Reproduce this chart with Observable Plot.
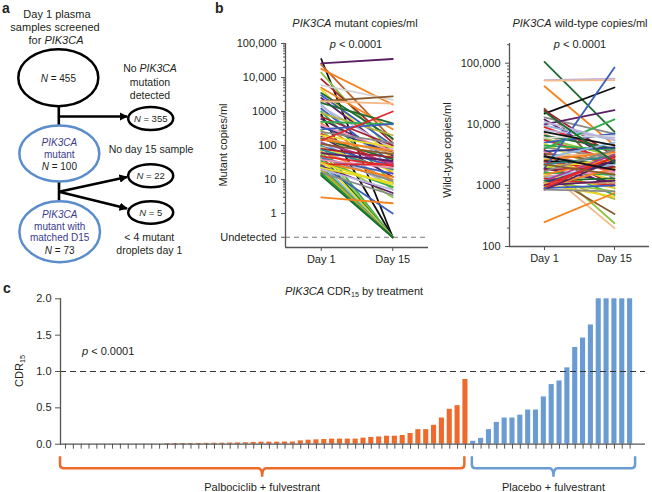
<!DOCTYPE html>
<html><head><meta charset="utf-8">
<script src="https://cdn.jsdelivr.net/npm/d3@7"></script>
<script src="https://cdn.jsdelivr.net/npm/@observablehq/plot@0.6"></script>
<style>
body{margin:0;background:#fff;}
#root{position:relative;width:652px;height:492px;overflow:hidden;font-family:"Liberation Sans",Arial,Helvetica,sans-serif;color:#231f20;}
.t{position:absolute;white-space:nowrap;line-height:1;}
.t sub{font-size:0.65em;vertical-align:-0.35em;line-height:0;}
</style></head><body><div id="root"></div>
<script>
// ---------- DATA ----------
const days = ["Day 1", "Day 15"];
// panel b: PIK3CA mutant copies/ml (0 = undetected)
const mutDay1 = [35000,26000,24000,18000,14000,9000,6000,5000,4500,3500,3000,2500,2000,2000,1800,1600,1400,1200,1000,900,800,700,600,500,450,400,350,300,280,250,220,200,180,170,160,150,140,130,120,110,100,95,90,85,80,75,70,65,60,55,50,48,45,42,40,38,35,32,30,28,26,25,24,22,20,20,18,16,15,14,13,3,30];
const mutDay15 = [0,35000,150,1600,60,120,2200,300,40,160,100,60,2800,1700,450,20,80,30,8,200,0,100,50,420,15,70,60,430,5,120,25,90,12,60,40,70,1000,8,30,55,0,25,18,6,45,20,0,10,35,3,0,25,9,15,0,22,6,12,0,28,1,4,0,8,0,5,0,3.5,0,0,0,2,7];
const mutSeries = ["black","purple","darkorange","orange","lightgreen","darkred","lightgrey","orange","yellow","darkgreen",
"blue","purple","brown","peach","darkgreen","lightblue","lavender","blue","green","olive",
"black","darkred","purple","green","orange","pink","navy","blue","lightgreen","grey",
"red","yellow","purple","tan","darkgreen","orange","red","lightblue","magenta","brown",
"green","blue","yellow","lavender","darkred","teal","lightgreen","orange","purple","lightgreen",
"darkgreen","red","grey","blue","yellow","pink","green","orange","lightblue","red",
"blue","purple","green","yellow","orange","lavender","lightgreen","grey","darkgreen","green",
"darkgreen","orange","yellow"];
const mutTickValues = [100000,10000,1000,100,10,1];
const undetectedLabel = "Undetected";
// panel b: PIK3CA wild-type copies/ml
const wtDay1 = [105000,53000,52000,42000,18000,15000,17000,13000,12000,10000,
9500,9000,8000,7000,6500,6000,5800,5500,5000,4800,
4500,4200,4000,3800,3600,3500,3300,3200,3000,2900,
2800,2700,2600,2500,2500,2400,2300,2200,2100,2000,
1900,1900,1800,1800,1700,1600,1600,1500,1500,1400,
1400,1300,1300,1200,1200,1150,1100,1100,1050,1000,
1000,950,900,900,850,850,250,6000,11000,7500,
3000,2200,16000];
const wtDay15 = [7500,56000,53000,4500,1200,40000,3000,7000,2500,17000,
5500,3500,6000,2000,4000,1800,3000,2600,7000,1500,
3800,2800,12000,1000,4200,1600,2400,900,3300,2000,
5000,1200,3500,240,2300,1800,1400,3000,700,2600,
85000,1100,200,2000,3800,340,1500,2700,900,1700,
600,2200,1000,3200,1300,800,2500,1100,650,2900,
1200,1900,3000,1000,2600,800,750,6500,5500,4500,
1800,1500,2400];
const wtSeries = ["darkgreen","lavender","peach","orange","brown","black","darkred","grey","purple","purple",
"lightblue","red","lavender","tan","darkgreen","orange","lightgreen","red","blue","yellow",
"green","grey","green","darkred","navy","pink","brown","purple","peach","darkgreen",
"lightblue","yellow","orange","lightgreen","black","red","lavender","teal","green","yellow",
"blue","purple","peach","darkred","grey","brown","green","orange","yellow","pink",
"olive","lightblue","red","magenta","darkgreen","lightgreen","navy","tan","yellow","red",
"purple","orange","red","blue","purple","grey","orange","lightgrey","lavender","black",
"black","brown","darkgreen"];
const wtTickValues = [100000,10000,1000,100];
// panel c: CDR15 per patient, sorted within treatment
const cdrPalbo = [0,0,0,0,0,0,0,0,0,0,0,0,0,
0.008,0.009,0.01,0.01,0.011,0.012,0.013,0.014,0.016,0.018,0.02,0.025,
0.028,0.028,0.028,0.03,0.03,0.046,0.055,0.06,0.064,0.07,0.07,0.07,0.07,0.083,0.092,0.10,0.11,0.11,0.12,0.147,0.20,0.20,0.26,0.36,0.48,0.53,0.89];
const cdrPlacebo = [0.04,0.08,0.20,0.30,0.36,0.36,0.40,0.47,0.47,0.65,0.82,0.87,1.05,1.33,1.46,1.64,2,2,2,2,2];
const groups = ["Palbociclib + fulvestrant", "Placebo + fulvestrant"];
const cdrTicks = [0, 0.5, 1, 1.5, 2];
// panel a: flow chart
const flowN = [455, 355, 100, 22, 5, 73];

// ---------- STYLE ----------
const palette = {black:"#111111",purple:"#5a1f63",darkorange:"#c0622b",orange:"#f5841f",lightgreen:"#8dc63f",
darkred:"#a3212e",lightgrey:"#d4d4d4",yellow:"#e8dc22",darkgreen:"#1d6b30",blue:"#3b5fc0",brown:"#8b5a2b",
peach:"#f4b88a",lightblue:"#8db8e2",lavender:"#bcb6e0",green:"#2fae4a",olive:"#b8b43a",navy:"#2b3a8f",
pink:"#ef8fb4",grey:"#8a8a8a",red:"#e4262b",tan:"#d3a36b",magenta:"#b23a94",teal:"#2a8a8a"};
const groupColors = ["#ee6a2c", "#6a9bd3"];
const FONT = '"Liberation Sans", Arial, Helvetica, sans-serif';
const INK = "#231f20", AX = "#555";
const root = document.getElementById("root");

function txt(html, x, y, o = {}) {
  const d = document.createElement("div");
  d.className = "t";
  d.innerHTML = html;
  d.style.left = x + "px"; d.style.top = y + "px";
  d.style.fontSize = (o.size || 11) + "px";
  if (o.bold) d.style.fontWeight = "bold";
  d.style.color = o.color || INK;
  const tx = o.anchor === "start" ? "0" : o.anchor === "end" ? "-100%" : "-50%";
  d.style.transform = `translate(${tx},-50%)` + (o.rotate ? ` rotate(${o.rotate}deg)` : "");
  root.appendChild(d);
}
function place(svg, left, top) {
  svg.style.position = "absolute";
  svg.style.left = left + "px"; svg.style.top = top + "px";
  root.appendChild(svg);
}
const baseStyle = {fontFamily: FONT, fontSize: "11px", color: INK, background: "transparent", overflow: "visible"};
const fmtCopies = d => d >= 10000 ? d3.format(",")(d) : String(d);
const minorTicks = (lo, hi) => { const out = []; for (let p = lo; p < hi; p *= 10) for (let k = 2; k <= 9; k++) out.push(p * k); return out; };

// ---------- PANEL A (flow chart) ----------
(function () {
  const svg = d3.create("svg").attr("width", 200).attr("height", 280).style("position","absolute").style("left","0px").style("top","0px");
  const defs = svg.append("defs");
  defs.append("marker").attr("id","arr").attr("viewBox","0 0 10 10").attr("refX",9).attr("refY",5)
    .attr("markerWidth",3.2).attr("markerHeight",3.2).attr("orient","auto")
    .append("path").attr("d","M0,0L10,5L0,10z").attr("fill","#000");
  const blue = "#5b8ccb";
  const ells = [[58.3,77.7,40,28.5,"#000"],[150.7,118.5,22.5,11.5,"#000"],[59.3,153.5,40,28,blue],
                [150.7,175.7,22.5,11.5,"#000"],[150.7,212.5,22.5,11.2,"#000"],[59.7,231.7,40.3,30.5,blue]];
  const lines = [[58.8,105,58.8,126,false],[58.8,116.5,127,116.5,true],[59,181,59,201,false],
                 [59,191.7,127,177,true],[59,191.7,127,208.5,true]];
  lines.forEach(([x1,y1,x2,y2,a]) => {
    const l = svg.append("line").attr("x1",x1).attr("y1",y1).attr("x2",x2).attr("y2",y2)
      .attr("stroke","#000").attr("stroke-width",2.6);
    if (a) l.attr("marker-end","url(#arr)");
  });
  ells.forEach(([cx,cy,rx,ry,c]) => svg.append("ellipse").attr("cx",cx).attr("cy",cy).attr("rx",rx).attr("ry",ry)
    .attr("fill","#fff").attr("stroke",c).attr("stroke-width",2.5));
  root.appendChild(svg.node());
  const NAV = "#3b3b8c";
  txt("a", 2, 8, {size: 14, bold: true, anchor: "start"});
  txt("Day 1 plasma", 57, 13.5, {size: 11});
  txt("samples screened", 55, 26.7, {size: 11});
  txt("for <i>PIK3CA</i>", 56, 40, {size: 11});
  txt(`<i>N</i> = ${flowN[0]}`, 58.3, 79.3, {size: 10});
  txt("No <i>PIK3CA</i>", 150, 68, {size: 10.5});
  txt("mutation", 150, 82, {size: 10.5});
  txt("detected", 150, 95, {size: 10.5});
  txt(`<i>N</i> = ${flowN[1]}`, 150.7, 118.5, {size: 9.5});
  txt("<i>PIK3CA</i>", 59.3, 142.7, {size: 10, color: NAV});
  txt("mutant", 59.3, 155, {size: 10, color: NAV});
  txt(`<i>N</i> = ${flowN[2]}`, 59.3, 166.7, {size: 10});
  txt("No day 15 sample", 151, 148.5, {size: 10.5});
  txt(`<i>N</i> = ${flowN[3]}`, 150.7, 175.7, {size: 9.5});
  txt(`<i>N</i> = ${flowN[4]}`, 150.7, 212.5, {size: 9.5});
  txt("&lt; 4 mutant", 149.3, 236.7, {size: 10.5});
  txt("droplets day 1", 149.3, 250, {size: 10.5});
  txt("<i>PIK3CA</i>", 59.7, 215, {size: 10, color: NAV});
  txt("mutant with", 59.7, 226.7, {size: 10, color: NAV});
  txt("matched D15", 59.7, 238.3, {size: 10, color: NAV});
  txt(`<i>N</i> = ${flowN[5]}`, 59.7, 250.7, {size: 10});
})();

// ---------- PANEL B ----------
const UND = 0.2;
const mutRows = mutDay1.flatMap((v, i) => [
  {id: i, day: 1, v: v || UND, c: palette[mutSeries[i]]},
  {id: i, day: 2, v: mutDay15[i] || UND, c: palette[mutSeries[i]]}]);
const wtRows = wtDay1.flatMap((v, i) => [
  {id: i, day: 1, v, c: palette[wtSeries[i]]},
  {id: i, day: 2, v: wtDay15[i], c: palette[wtSeries[i]]}]);

const mutPlot = Plot.plot({
  width: 232, height: 275, marginLeft: 85, marginRight: 4, marginTop: 43, marginBottom: 28,
  style: baseStyle,
  x: {domain: [0.5, 2.5]},
  y: {type: "log", domain: [0.1, 1e5]},
  color: {type: "identity"},
  marks: [
    Plot.line(mutRows, {x: "day", y: "v", z: "id", stroke: "c", strokeWidth: 1.8}),
    Plot.ruleY([UND], {stroke: "#777", strokeDasharray: "5,4", strokeWidth: 1}),
    Plot.ruleX([0.5], {stroke: AX, strokeWidth: 1.3}),
    Plot.ruleY([0.1], {stroke: AX, strokeWidth: 1.3}),
    Plot.axisY(mutTickValues, {tickSize: 4, tickPadding: 5, stroke: AX, fill: INK, tickFormat: fmtCopies, label: null}),
    Plot.axisY([UND], {tickSize: 4, stroke: AX, tickFormat: () => "", label: null}),
    Plot.text([UND], {y: d => d, text: () => undetectedLabel, frameAnchor: "left", textAnchor: "end", dx: -9, fill: INK, fontSize: 11}),
    Plot.axisY(minorTicks(1, 1e5), {tickSize: 2, stroke: AX, tickFormat: () => "", label: null}),
    Plot.axisX([1, 2], {tickSize: 4, tickPadding: 4, stroke: AX, fill: INK, tickFormat: d => days[d - 1], label: null})
  ]
});
place(mutPlot, 200, 0);

const wtPlot = Plot.plot({
  width: 222, height: 275, marginLeft: 79, marginRight: 3, marginTop: 43, marginBottom: 29,
  style: baseStyle,
  x: {domain: [0.5, 2.5]},
  y: {type: "log", domain: [100, 2.1e5]},
  color: {type: "identity"},
  marks: [
    Plot.line(wtRows, {x: "day", y: "v", z: "id", stroke: "c", strokeWidth: 1.8}),
    Plot.ruleX([0.5], {stroke: AX, strokeWidth: 1.3}),
    Plot.ruleY([100], {stroke: AX, strokeWidth: 1.3}),
    Plot.axisY(wtTickValues, {tickSize: 4, tickPadding: 5, stroke: AX, fill: INK, tickFormat: fmtCopies, label: null}),
    Plot.axisY(minorTicks(100, 2.1e5).filter(d => d < 2.1e5), {tickSize: 2, stroke: AX, tickFormat: () => "", label: null}),
    Plot.axisX([1, 2], {tickSize: 4, tickPadding: 4, stroke: AX, fill: INK, tickFormat: d => days[d - 1], label: null})
  ]
});
place(wtPlot, 430, 0);

txt("b", 215, 8, {size: 14, bold: true, anchor: "start"});
txt("<i>PIK3CA</i> mutant copies/ml", 355, 23, {size: 11});
txt("<i>p</i> &lt; 0.0001", 356, 43.5, {size: 11});
txt("Mutant copies/ml", 223, 145, {size: 11, rotate: -90});
txt("<i>PIK3CA</i> wild-type copies/ml", 580, 23, {size: 11});
txt("<i>p</i> &lt; 0.0001", 580, 43.5, {size: 11});
txt("Wild-type copies/ml", 447, 150, {size: 11, rotate: -90});

// ---------- PANEL C ----------
const cdrRows = [
  ...cdrPalbo.map((v, i) => ({i, v, g: 0})),
  ...cdrPlacebo.map((v, j) => ({i: cdrPalbo.length + j, v, g: 1}))];
const nBars = cdrRows.length;
const cTop = 280, cMB = 48.3;
const cPlot = Plot.plot({
  width: 652, height: 212, marginLeft: 60, marginRight: 7, marginTop: 18.3, marginBottom: cMB,
  style: baseStyle,
  x: {type: "band", domain: d3.range(nBars), paddingInner: 0.35, paddingOuter: 0.975, align: 0.16},
  y: {domain: [0, 2]},
  color: {type: "identity"},
  marks: [
    Plot.barY(cdrRows, {x: "i", y: "v", fill: d => groupColors[d.g]}),
    Plot.ruleY([1], {stroke: "#333", strokeDasharray: "6,4", strokeWidth: 1}),
    Plot.ruleY([0], {stroke: AX, strokeWidth: 1.3}),
    Plot.frame({anchor: "left", stroke: AX, strokeWidth: 1.3}),
    Plot.axisY(cdrTicks, {tickSize: 5, tickPadding: 4, stroke: AX, fill: INK, tickFormat: d3.format(".1f"), label: null}),
    Plot.axisX({tickSize: 5, stroke: AX, tickFormat: () => "", label: null})
  ]
});
place(cPlot, 0, cTop);
(function () {
  const xs = cPlot.scale("x");
  const cx = i => xs.apply(i) + xs.bandwidth / 2;
  const yBase = 212 - cMB;
  const y0 = yBase + 12.5, y1 = yBase + 24.5, y2 = yBase + 33;
  const nP = cdrPalbo.length;
  const boundary = (cx(nP - 1) + cx(nP)) / 2;
  const spans = [[cx(0) - 5, boundary - 4.5], [boundary + 3, cx(nBars - 1) + 5.5]];
  const svg = d3.select(cPlot);
  const r = 4;
  spans.forEach(([L, R], g) => {
    const M = (L + R) / 2;
    const p = `M${L},${y0}L${L},${y1 - r}Q${L},${y1} ${L + r},${y1}L${M - r},${y1}Q${M},${y1} ${M},${y2}` +
              `Q${M},${y1} ${M + r},${y1}L${R - r},${y1}Q${R},${y1} ${R},${y1 - r}L${R},${y0}`;
    svg.append("path").attr("d", p).attr("fill", "none").attr("stroke", groupColors[g]).attr("stroke-width", 2.5);
    txt(groups[g], M, cTop + yBase + 43.5, {size: 11});
  });
})();
txt("c", 3, 288, {size: 14, bold: true, anchor: "start"});
txt("<i>PIK3CA</i> CDR<sub>15</sub> by treatment", 354, 291, {size: 11});
txt("<i>p</i> &lt; 0.0001", 82, 351, {size: 11, anchor: "start"});
txt("CDR<sub>15</sub>", 19, 371, {size: 11, rotate: -90});
</script>
</body></html>
